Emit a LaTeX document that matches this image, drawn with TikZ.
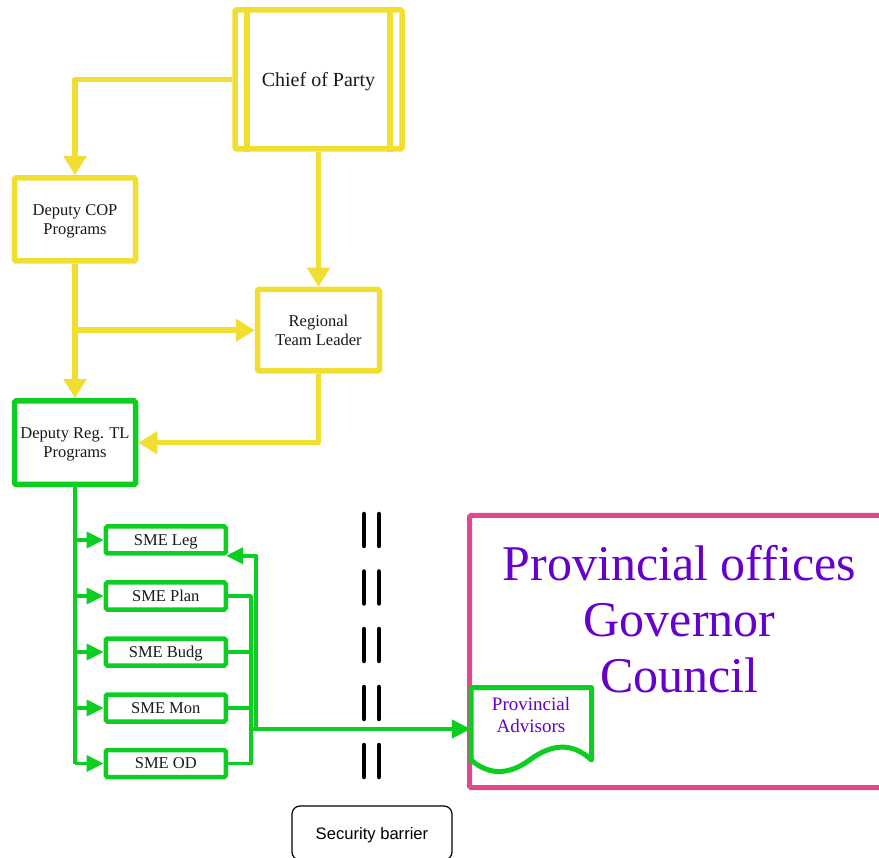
\documentclass[tikz,border=0pt]{standalone}
\usepackage{fontspec}
\setmainfont{Liberation Serif}
\newfontfamily\sbfont{Liberation Sans}
\usetikzlibrary{arrows.meta}
\definecolor{cyel}{RGB}{240,222,50}
\definecolor{cgrn}{RGB}{12,206,32}
\definecolor{cpink}{RGB}{222,72,142}
\definecolor{cpurp}{RGB}{102,0,204}
\definecolor{ctext}{RGB}{25,25,25}
\tikzset{
  ybox/.style={draw=cyel, line width=5.5pt, rounded corners=1.5pt, fill=white, align=center, inner sep=0pt, text depth=0pt, text=ctext, font=\fontsize{16.5}{19}\selectfont},
  gbigbox/.style={draw=cgrn, line width=5.5pt, rounded corners=1.5pt, fill=white, align=center, inner sep=0pt, text depth=0pt, text=ctext, font=\fontsize{16.5}{19}\selectfont},
  smebox/.style={draw=cgrn, line width=4.5pt, rounded corners=1.5pt, fill=white, align=center, inner sep=0pt, text depth=0pt, text=ctext, minimum width=120pt, minimum height=27pt, font=\fontsize{16.5}{19}\selectfont},
  yarr/.style={draw=cyel, line width=5.5pt, line join=round, -{Triangle[width=22pt,length=19pt]}},
  gline/.style={draw=cgrn, line width=3.8pt, line join=round},
  garr/.style={gline, -{Triangle[width=16pt,length=17pt]}},
  garrbig/.style={draw=cgrn, line width=4.2pt, -{Triangle[width=18pt,length=19pt]}},
  barrier/.style={draw=black, line width=4.5pt, line cap=round},
}
\begin{document}
\begin{tikzpicture}[x=1pt,y=-1pt]
\useasboundingbox (0,0) rectangle (879,858);

% yellow part
\node[ybox, minimum width=167pt, minimum height=139pt, font=\fontsize{20}{23}\selectfont] (chief) at (318.5,79.5) {Chief of Party};
\draw[draw=cyel, line width=5.5pt] ([xshift=14.5pt]chief.north west) -- ([xshift=14.5pt]chief.south west);
\draw[draw=cyel, line width=5.5pt] ([xshift=-15pt]chief.north east) -- ([xshift=-15pt]chief.south east);
\node[ybox, minimum width=121pt, minimum height=83pt] (dcop) at (75,219.5) {Deputy COP\\Programs};
\node[ybox, minimum width=122pt, minimum height=81.5pt] (rtl) at (318.5,330.25) {Regional\\Team Leader};
\node[gbigbox, minimum width=121pt, minimum height=83.5pt] (drtl) at (75,442.75) {Deputy Reg. TL\\Programs};

\draw[yarr] (chief.west) -| (dcop.north);
\draw[yarr] (chief.south) -- (rtl.north);
\draw[yarr] (dcop.south) -- (drtl.north);
\draw[yarr] (dcop.south |- rtl.west) -- (rtl.west);
\draw[yarr] (rtl.south) |- (drtl.east);

% SME boxes
\node[smebox] (leg)  at (165.8,540) {SME Leg};
\node[smebox] (plan) at (165.8,596) {SME Plan};
\node[smebox] (budg) at (165.8,652) {SME Budg};
\node[smebox] (mon)  at (165.8,708) {SME Mon};
\node[smebox] (od)   at (165.8,763.5) {SME OD};

\draw[gline] (drtl.south) -- (drtl.south |- od.west);
\foreach \s in {leg,plan,budg,mon,od}{
  \draw[garr] (drtl.south |- \s.west) -- (\s.west);
}

% pink provincial box
\draw[draw=cpink, line width=5pt, rounded corners=1.5pt] (895,515.5) -- (469.5,515.5) -- (469.5,787.5) -- (895,787.5);
\node[text=cpurp, align=center, font=\fontsize{50}{56}\selectfont] (prov) at (679.5,619) {Provincial offices\\Governor\\Council};

% provincial advisors document shape
\draw[draw=cgrn, line width=5pt, line join=round, fill=white]
  (471,760) -- (471,687.5) -- (591.5,687.5) -- (591.5,760)
  .. controls (571,741) and (551,745) .. (531,759)
  .. controls (511,774) and (491,777) .. (471,760) -- cycle;
\node[text=cpurp, align=center, font=\fontsize{19}{22}\selectfont, inner sep=0pt, minimum width=120pt] (pa) at (531,715) {Provincial\\Advisors};

% right-side buses
\coordinate (bus) at (251,0);
\coordinate (bustwo) at (256,0);
\coordinate (mainy) at (0,729);
\draw[gline] (plan.east) -- (plan.east -| bus) -- (od.east -| bus) -- (od.east);
\draw[gline] (budg.east) -- (budg.east -| bus);
\draw[gline] (mon.east) -- (mon.east -| bus);
\draw[garr] (bustwo |- mainy) -- (bustwo |- leg.south) -- ([xshift=-2pt]leg.south east);
\draw[garrbig] (bus |- mainy) -- (pa.west |- mainy);

% security barrier dashes
\foreach \y in {512,569.5,627,685,743}{
  \draw[barrier] (364,\y+2) -- (364,\y+34);
  \draw[barrier] (379,\y+2) -- (379,\y+34);
}

% security barrier label
\node[draw=black, line width=1.2pt, rounded corners=8pt, minimum width=160pt, minimum height=54pt, inner sep=0pt, text depth=0pt, font=\sbfont\fontsize{16.6}{19}\selectfont] (sb) at (372,833) {Security barrier};
\end{tikzpicture}
\end{document}
